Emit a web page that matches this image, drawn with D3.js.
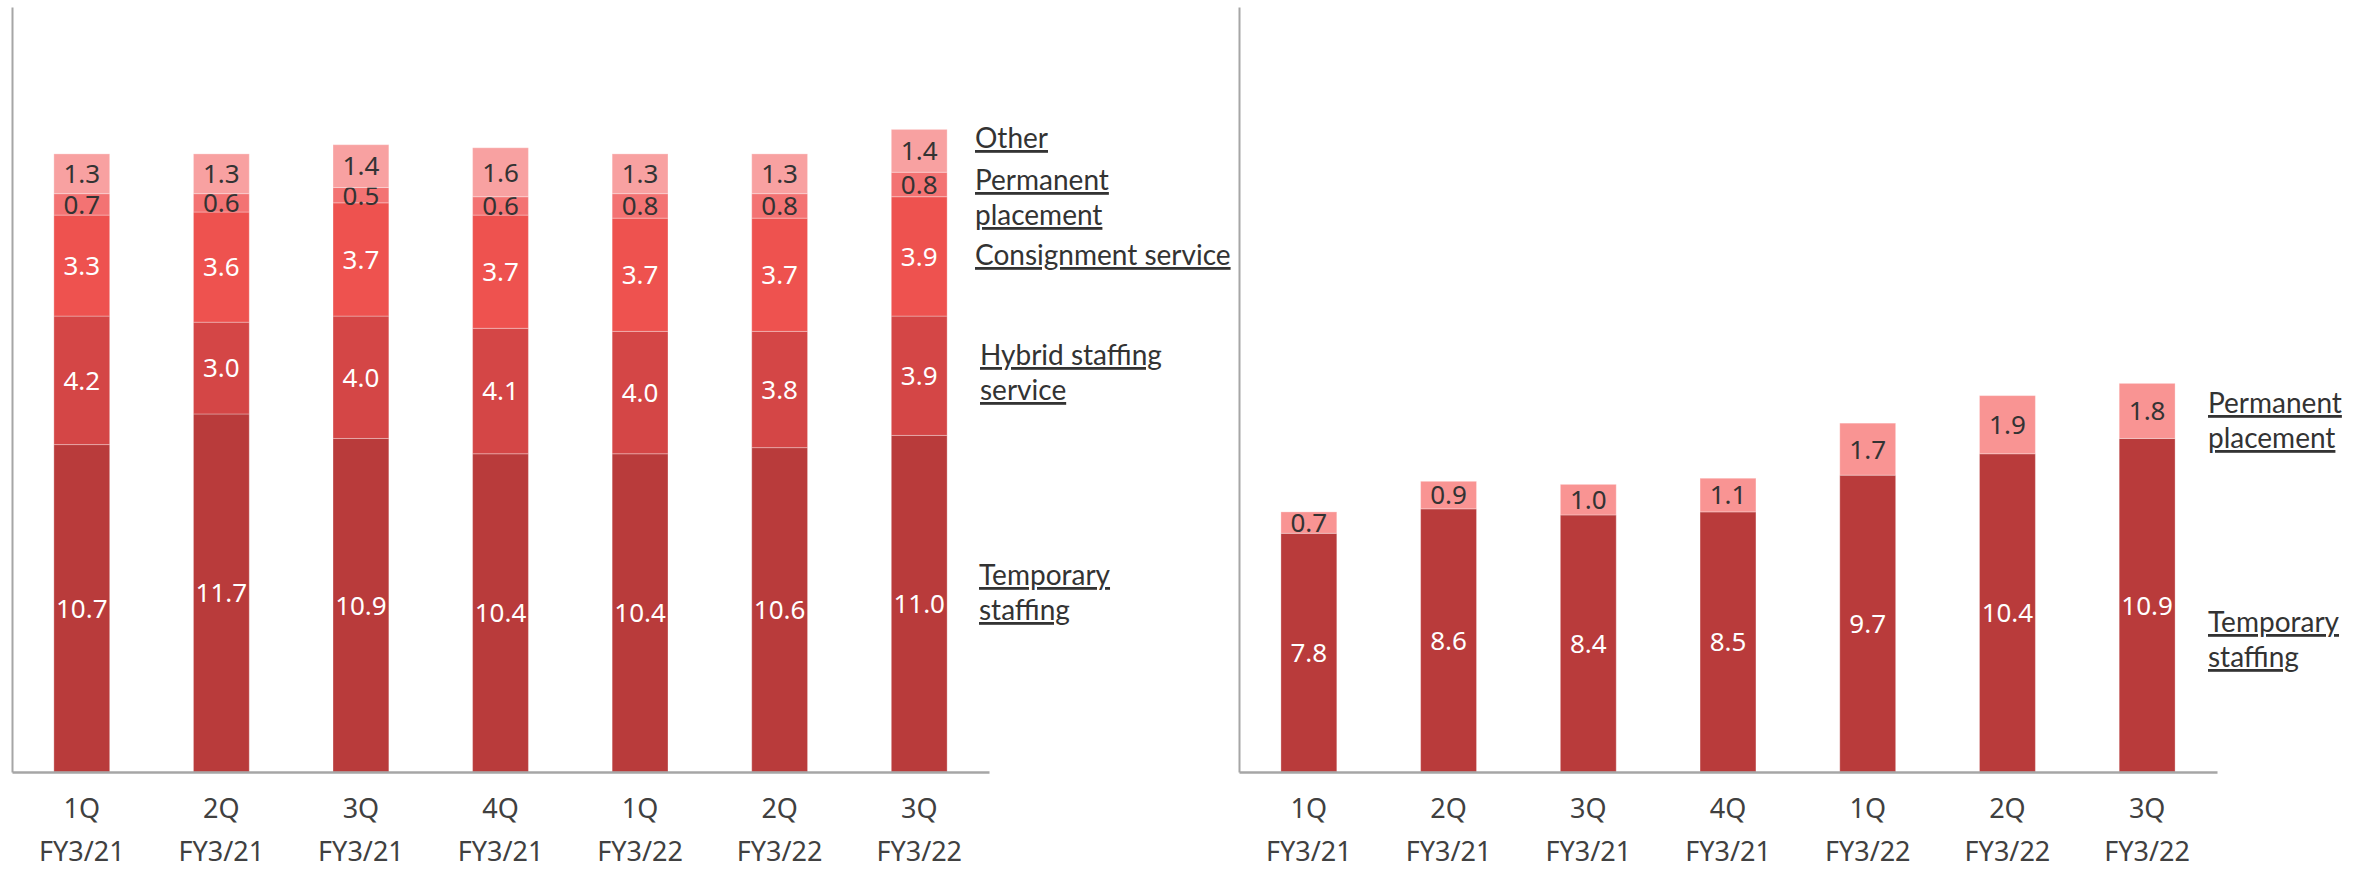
<!DOCTYPE html>
<html>
<head>
<meta charset="utf-8">
<script src="https://cdn.jsdelivr.net/npm/d3@7"></script>
<style>
  html, body { margin: 0; padding: 0; background: #ffffff; }
  svg { display: block; }
  text { font-family: "Noto Sans", "Open Sans", sans-serif; }
  text.series-name { font-family: Lato, "Noto Sans", sans-serif; }
</style>
</head>
<body>
<svg id="chart" width="2366" height="869"></svg>
<script>
// Quarter labels (two lines per tick)
const quarters = ["1Q", "2Q", "3Q", "4Q", "1Q", "2Q", "3Q"];
const fiscalYears = ["FY3/21", "FY3/21", "FY3/21", "FY3/21", "FY3/22", "FY3/22", "FY3/22"];

// Left panel: sales by business line
const temporaryStaffing = [10.7, 11.7, 10.9, 10.4, 10.4, 10.6, 11.0];
const hybridStaffing = [4.2, 3.0, 4.0, 4.1, 4.0, 3.8, 3.9];
const consignmentService = [3.3, 3.6, 3.7, 3.7, 3.7, 3.7, 3.9];
const permanentPlacement = [0.7, 0.6, 0.5, 0.6, 0.8, 0.8, 0.8];
const otherSales = [1.3, 1.3, 1.4, 1.6, 1.3, 1.3, 1.4];

// Right panel: gross profit
const temporaryStaffingGP = [7.8, 8.6, 8.4, 8.5, 9.7, 10.4, 10.9];
const permanentPlacementGP = [0.7, 0.9, 1.0, 1.1, 1.7, 1.9, 1.8];

const svg = d3.select("#chart");
const yMax = 25;
const baseY = 772, topY = 7;

function drawPanel(opts) {
  const { x0, x1, series, legend } = opts;
  const ids = quarters.map((q, i) => i);
  const x = d3.scaleBand().domain(ids).range([x0, x1]).paddingInner(0.6).paddingOuter(0.3);
  const y = d3.scaleLinear().domain([0, yMax]).range([baseY, topY]);

  const rows = ids.map(i => {
    const r = { idx: i };
    series.forEach(s => { r[s.key] = s.values[i]; });
    return r;
  });
  const stacked = d3.stack().keys(series.map(s => s.key))(rows);

  const g = svg.append("g");

  stacked.forEach((layer, li) => {
    const s = series[li];
    const lg = g.append("g");
    lg.selectAll("rect").data(layer).join("rect")
      .attr("x", d => x(d.data.idx))
      .attr("width", x.bandwidth())
      .attr("y", d => y(d[1]))
      .attr("height", d => y(d[0]) - y(d[1]))
      .attr("fill", s.color)
      .attr("stroke", "rgba(255,255,255,0.3)")
      .attr("stroke-width", 1);
    lg.selectAll("text").data(layer).join("text")
      .attr("x", d => x(d.data.idx) + x.bandwidth() / 2)
      .attr("y", d => (y(d[0]) + y(d[1])) / 2)
      .attr("dy", "0.36em")
      .attr("text-anchor", "middle")
      .attr("font-size", 26)
      .attr("fill", s.textColor)
      .text(d => d3.format(".1f")(d[1] - d[0]));
  });

  // Axes
  g.append("g")
    .attr("transform", `translate(${x0},0)`)
    .call(d3.axisLeft(y).ticks(0).tickSizeOuter(0))
    .call(a => a.select(".domain").attr("stroke", "#a6a6a6").attr("stroke-width", 2));

  const xa = g.append("g")
    .attr("transform", `translate(0,${baseY})`)
    .call(d3.axisBottom(x).tickSize(0).tickFormat(() => ""));
  xa.select(".domain").attr("stroke", "#a6a6a6").attr("stroke-width", 2.5);
  xa.selectAll(".tick text").remove();
  xa.selectAll(".tick").each(function(i) {
    const t = d3.select(this).append("text")
      .attr("fill", "#404040")
      .attr("font-size", 27)
      .attr("text-anchor", "middle");
    t.append("tspan").attr("x", 0).attr("y", 46).text(quarters[i]);
    t.append("tspan").attr("x", 0).attr("y", 89).text(fiscalYears[i]);
  });

  // Series names to the right of the bars
  legend.forEach(l => {
    const t = g.append("text")
      .attr("class", "series-name")
      .attr("x", l.x)
      .attr("font-size", 28)
      .attr("fill", "#333333")
      .style("text-decoration", "underline");
    l.lines.forEach((line, k) => {
      t.append("tspan").attr("x", l.x).attr("y", l.y + k * 35).text(line);
    });
  });
}

drawPanel({
  x0: 12, x1: 989,
  series: [
    { key: "temp", values: temporaryStaffing, color: "#b93b3b", textColor: "#ffffff" },
    { key: "hybrid", values: hybridStaffing, color: "#d44646", textColor: "#ffffff" },
    { key: "consign", values: consignmentService, color: "#ee524f", textColor: "#ffffff" },
    { key: "perm", values: permanentPlacement, color: "#f37373", textColor: "#333333" },
    { key: "other", values: otherSales, color: "#f8a1a1", textColor: "#333333" }
  ],
  legend: [
    { x: 975, y: 148, lines: ["Other"] },
    { x: 975, y: 190, lines: ["Permanent", "placement"] },
    { x: 975, y: 265, lines: ["Consignment service"] },
    { x: 980, y: 365, lines: ["Hybrid staffing", "service"] },
    { x: 979, y: 585, lines: ["Temporary", "staffing"] }
  ]
});

drawPanel({
  x0: 1239, x1: 2217,
  series: [
    { key: "temp", values: temporaryStaffingGP, color: "#b93b3b", textColor: "#ffffff" },
    { key: "perm", values: permanentPlacementGP, color: "#f99493", textColor: "#333333" }
  ],
  legend: [
    { x: 2208, y: 413, lines: ["Permanent", "placement"] },
    { x: 2208, y: 632, lines: ["Temporary", "staffing"] }
  ]
});
</script>
</body>
</html>
